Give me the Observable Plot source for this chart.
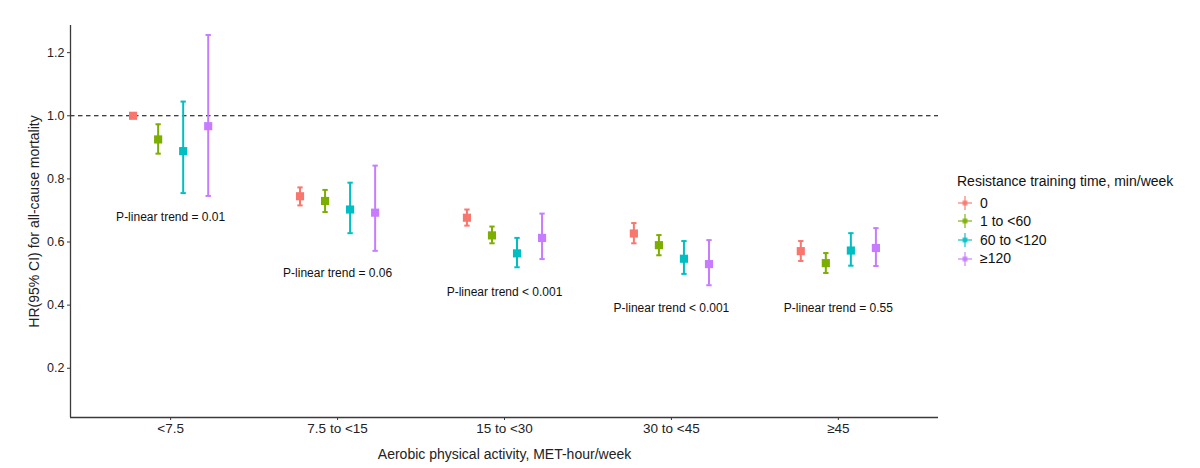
<!DOCTYPE html>
<html><head><meta charset="utf-8">
<script src="https://cdn.jsdelivr.net/npm/d3@7"></script>
<script src="https://cdn.jsdelivr.net/npm/@observablehq/plot@0.6"></script>
<style>
body{margin:0;background:#fff;font-family:"Liberation Sans",Arial,sans-serif;}
#wrap{position:relative;width:1200px;height:468px;}
#legend{position:absolute;left:957px;top:172px;font-size:14px;color:#111;line-height:18.6px;}
#legend .row{display:flex;align-items:center;height:18.6px;}
#legend svg{margin-right:7px;}
</style></head><body><div id="wrap"><div id="chart"></div><div id="legend"></div></div>
<script>
const categories = ["<7.5", "7.5 to <15", "15 to <30", "30 to <45", "≥45"];
const groups = ["0", "1 to <60", "60 to <120", "≥120"];
const colors = ["#F8766D", "#7CAE00", "#00BFC4", "#C77CFF"];

// hazard ratios and 95% CI, one array per resistance-training group (across aerobic categories)
const hr_g0 = [1.000, 0.745, 0.677, 0.627, 0.571];
const lo_g0 = [1.000, 0.716, 0.652, 0.596, 0.540];
const hi_g0 = [1.000, 0.773, 0.703, 0.660, 0.603];

const hr_g1 = [0.925, 0.730, 0.621, 0.590, 0.533];
const lo_g1 = [0.880, 0.695, 0.596, 0.558, 0.502];
const hi_g1 = [0.973, 0.765, 0.649, 0.622, 0.565];

const hr_g2 = [0.888, 0.703, 0.564, 0.547, 0.573];
const lo_g2 = [0.755, 0.628, 0.520, 0.499, 0.525];
const hi_g2 = [1.045, 0.788, 0.613, 0.603, 0.628];

const hr_g3 = [0.967, 0.693, 0.613, 0.530, 0.581];
const lo_g3 = [0.746, 0.572, 0.546, 0.463, 0.524];
const hi_g3 = [1.256, 0.842, 0.690, 0.606, 0.644];

const pLabels = ["P-linear trend = 0.01", "P-linear trend = 0.06", "P-linear trend < 0.001", "P-linear trend < 0.001", "P-linear trend = 0.55"];
const pLabelY = [0.679, 0.500, 0.440, 0.389, 0.389];

const yTicks = [0.2, 0.4, 0.6, 0.8, 1.0, 1.2];

const HR = [hr_g0, hr_g1, hr_g2, hr_g3];
const LO = [lo_g0, lo_g1, lo_g2, lo_g3];
const HI = [hi_g0, hi_g1, hi_g2, hi_g3];

const dodge = 0.15, cap = 0.016;
const rows = [];
groups.forEach((g, j) => {
  categories.forEach((c, i) => {
    rows.push({group: g, cat: i, x: i + (j - 1.5) * dodge, hr: HR[j][i], lo: LO[j][i], hi: HI[j][i]});
  });
});
const pRows = pLabels.map((t, i) => ({cat: i, text: t, y: pLabelY[i]}));

const xDomain = [-0.6, 4.6];
const yDomain = [0.044, 1.286];
const axisColor = "#3a3a3a";

const chart = Plot.plot({
  width: 1200,
  height: 468,
  marginLeft: 70,
  marginRight: 262,
  marginTop: 25,
  marginBottom: 51,
  style: {fontFamily: "'Liberation Sans', Arial, sans-serif", background: "#fff", color: "#222"},
  x: {domain: xDomain, ticks: categories.map((c, i) => i)},
  y: {domain: yDomain},
  color: {domain: groups, range: colors},
  marks: [
    Plot.ruleY([1], {stroke: "#000", strokeWidth: 1.1, strokeDasharray: "4.5,3.5"}),
    Plot.ruleX(rows, {x: "x", y1: "lo", y2: "hi", stroke: "group", strokeWidth: 2}),
    Plot.link(rows, {x1: d => d.x - cap, x2: d => d.x + cap, y1: "lo", y2: "lo", stroke: "group", strokeWidth: 2}),
    Plot.link(rows, {x1: d => d.x - cap, x2: d => d.x + cap, y1: "hi", y2: "hi", stroke: "group", strokeWidth: 2}),
    Plot.dot(rows, {x: "x", y: "hr", symbol: "square", r: 4.6, fill: "group", stroke: null}),
    Plot.text(pRows, {x: "cat", y: "y", text: "text", fontSize: 12, fill: "#111"}),
    Plot.ruleX([xDomain[0]], {stroke: axisColor, strokeWidth: 1.3}),
    Plot.ruleY([yDomain[0]], {stroke: axisColor, strokeWidth: 1.3}),
    Plot.axisX({
      ticks: categories.map((c, i) => i),
      tickFormat: i => categories[i],
      tickSize: 3,
      tickPadding: 3,
      fontSize: 13.5,
      stroke: axisColor,
      fill: "#222",
      label: null
    }),
    Plot.axisX({
      ticks: [],
      fontSize: 14,
      fill: "#222",
      label: "Aerobic physical activity, MET-hour/week",
      labelAnchor: "center",
      labelArrow: "none",
      labelOffset: 41
    }),
    Plot.axisY({
      ticks: yTicks,
      tickFormat: d3.format(".1f"),
      tickSize: 3,
      tickPadding: 3,
      fontSize: 12.5,
      stroke: axisColor,
      fill: "#222",
      label: null
    }),
    Plot.axisY({
      ticks: [],
      fontSize: 14,
      fill: "#222",
      label: "HR(95% CI) for all-cause mortality",
      labelAnchor: "center",
      labelArrow: "none",
      labelOffset: 41
    })
  ]
});
document.getElementById("chart").appendChild(chart);

// legend
const legend = document.getElementById("legend");
const title = document.createElement("div");
title.textContent = "Resistance training time, min/week";
title.style.marginBottom = "3px";
legend.appendChild(title);
groups.forEach((g, j) => {
  const row = document.createElement("div");
  row.className = "row";
  row.innerHTML = `<svg width="16" height="16" viewBox="0 0 16 16">
    <line x1="1" x2="15" y1="8" y2="8" stroke="${colors[j]}" stroke-width="1.6" opacity="0.7"/>
    <line x1="8" x2="8" y1="1" y2="15" stroke="${colors[j]}" stroke-width="1.6" opacity="0.7"/>
    <rect x="5.5" y="5.5" width="5" height="5" fill="${colors[j]}" opacity="0.8"/>
  </svg><span>${g}</span>`;
  legend.appendChild(row);
});
</script>
</body></html>
